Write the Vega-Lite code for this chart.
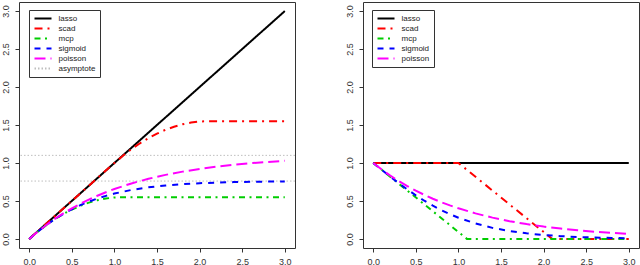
{
  "$schema": "https://vega.github.io/schema/vega-lite/v6.json",
  "padding": {"left": 0, "top": 1, "right": 0, "bottom": 0},
  "background": "white",
  "spacing": 48,
  "config": {
    "font": "Liberation Sans",
    "view": {"stroke": "#333", "strokeWidth": 1},
    "axis": {
      "domain": false, "grid": false, "ticks": true, "tickSize": 4, "tickColor": "#333",
      "labelFont": "Liberation Sans", "labelFontSize": 9, "labelColor": "#333",
      "labelPadding": 5, "labelFlush": false, "labelOverlap": false, "title": null
    },
    "legend": {
      "orient": "none", "title": null, "symbolType": "stroke", "symbolSize": 289,
      "symbolStrokeWidth": 2, "labelFont": "Liberation Sans", "labelFontSize": 8,
      "labelColor": "#222", "labelOffset": 6, "padding": 4.5, "rowPadding": 2, "clipHeight": 8,
      "strokeColor": "#333", "fillColor": "white"
    }
  },
  "datasets": {
    "pen": [
      {"x": 0, "y": 0, "s": "lasso"}, {"x": 3, "y": 3, "s": "lasso"},
      {"x": 0, "y": 0, "s": "scad"}, {"x": 1, "y": 1, "s": "scad"}, {"x": 1.1, "y": 1.0955, "s": "scad"}, {"x": 1.2, "y": 1.1818, "s": "scad"}, {"x": 1.3, "y": 1.2591, "s": "scad"}, {"x": 1.4, "y": 1.3273, "s": "scad"}, {"x": 1.5, "y": 1.3864, "s": "scad"}, {"x": 1.6, "y": 1.4364, "s": "scad"}, {"x": 1.7, "y": 1.4773, "s": "scad"}, {"x": 1.8, "y": 1.5091, "s": "scad"}, {"x": 1.9, "y": 1.5318, "s": "scad"}, {"x": 2.0, "y": 1.5455, "s": "scad"}, {"x": 2.1, "y": 1.55, "s": "scad"}, {"x": 3, "y": 1.55, "s": "scad"},
      {"x": 0, "y": 0, "s": "mcp"}, {"x": 0.1, "y": 0.0955, "s": "mcp"}, {"x": 0.2, "y": 0.1818, "s": "mcp"}, {"x": 0.3, "y": 0.2591, "s": "mcp"}, {"x": 0.4, "y": 0.3273, "s": "mcp"}, {"x": 0.5, "y": 0.3864, "s": "mcp"}, {"x": 0.6, "y": 0.4364, "s": "mcp"}, {"x": 0.7, "y": 0.4773, "s": "mcp"}, {"x": 0.8, "y": 0.5091, "s": "mcp"}, {"x": 0.9, "y": 0.5318, "s": "mcp"}, {"x": 1.0, "y": 0.5455, "s": "mcp"}, {"x": 1.1, "y": 0.55, "s": "mcp"}, {"x": 3, "y": 0.55, "s": "mcp"},
      {"x": 0, "y": 0, "s": "sigmoid"}, {"x": 0.1, "y": 0.0955, "s": "sigmoid"}, {"x": 0.2, "y": 0.1819, "s": "sigmoid"}, {"x": 0.3, "y": 0.2596, "s": "sigmoid"}, {"x": 0.4, "y": 0.3288, "s": "sigmoid"}, {"x": 0.5, "y": 0.39, "s": "sigmoid"}, {"x": 0.6, "y": 0.4438, "s": "sigmoid"}, {"x": 0.7, "y": 0.4907, "s": "sigmoid"}, {"x": 0.8, "y": 0.5314, "s": "sigmoid"}, {"x": 0.9, "y": 0.5665, "s": "sigmoid"}, {"x": 1.0, "y": 0.5967, "s": "sigmoid"}, {"x": 1.2, "y": 0.6445, "s": "sigmoid"}, {"x": 1.4, "y": 0.6789, "s": "sigmoid"}, {"x": 1.6, "y": 0.7035, "s": "sigmoid"}, {"x": 1.8, "y": 0.7209, "s": "sigmoid"}, {"x": 2.0, "y": 0.7332, "s": "sigmoid"}, {"x": 2.2, "y": 0.7418, "s": "sigmoid"}, {"x": 2.4, "y": 0.7478, "s": "sigmoid"}, {"x": 2.6, "y": 0.7521, "s": "sigmoid"}, {"x": 2.8, "y": 0.755, "s": "sigmoid"}, {"x": 3.0, "y": 0.7574, "s": "sigmoid"},
      {"x": 0, "y": 0, "s": "poisson"}, {"x": 0.1, "y": 0.0956, "s": "poisson"}, {"x": 0.2, "y": 0.1829, "s": "poisson"}, {"x": 0.3, "y": 0.2626, "s": "poisson"}, {"x": 0.4, "y": 0.3354, "s": "poisson"}, {"x": 0.5, "y": 0.4018, "s": "poisson"}, {"x": 0.6, "y": 0.4625, "s": "poisson"}, {"x": 0.7, "y": 0.5179, "s": "poisson"}, {"x": 0.8, "y": 0.5685, "s": "poisson"}, {"x": 0.9, "y": 0.6147, "s": "poisson"}, {"x": 1.0, "y": 0.6569, "s": "poisson"}, {"x": 1.2, "y": 0.7305, "s": "poisson"}, {"x": 1.4, "y": 0.7919, "s": "poisson"}, {"x": 1.6, "y": 0.8432, "s": "poisson"}, {"x": 1.8, "y": 0.8858, "s": "poisson"}, {"x": 2.0, "y": 0.9214, "s": "poisson"}, {"x": 2.2, "y": 0.9511, "s": "poisson"}, {"x": 2.4, "y": 0.9759, "s": "poisson"}, {"x": 2.6, "y": 0.9965, "s": "poisson"}, {"x": 2.8, "y": 1.0137, "s": "poisson"}, {"x": 3.0, "y": 1.0281, "s": "poisson"}
    ],
    "asym": [{"y": 1.1}, {"y": 0.7617}],
    "der": [
      {"x": 0, "y": 1, "s": "lasso"}, {"x": 3, "y": 1, "s": "lasso"},
      {"x": 0, "y": 1, "s": "scad"}, {"x": 1, "y": 1, "s": "scad"}, {"x": 2.1, "y": 0, "s": "scad"}, {"x": 3, "y": 0, "s": "scad"},
      {"x": 0, "y": 1, "s": "mcp"}, {"x": 1.1, "y": 0, "s": "mcp"}, {"x": 3, "y": 0, "s": "mcp"},
      {"x": 0, "y": 1, "s": "sigmoid"}, {"x": 0.1, "y": 0.9092, "s": "sigmoid"}, {"x": 0.2, "y": 0.82, "s": "sigmoid"}, {"x": 0.3, "y": 0.7336, "s": "sigmoid"}, {"x": 0.4, "y": 0.6513, "s": "sigmoid"}, {"x": 0.5, "y": 0.574, "s": "sigmoid"}, {"x": 0.6, "y": 0.5025, "s": "sigmoid"}, {"x": 0.7, "y": 0.4372, "s": "sigmoid"}, {"x": 0.8, "y": 0.3782, "s": "sigmoid"}, {"x": 0.9, "y": 0.3255, "s": "sigmoid"}, {"x": 1.0, "y": 0.2789, "s": "sigmoid"}, {"x": 1.2, "y": 0.2024, "s": "sigmoid"}, {"x": 1.4, "y": 0.1451, "s": "sigmoid"}, {"x": 1.6, "y": 0.1031, "s": "sigmoid"}, {"x": 1.8, "y": 0.0728, "s": "sigmoid"}, {"x": 2.0, "y": 0.0512, "s": "sigmoid"}, {"x": 2.2, "y": 0.0358, "s": "sigmoid"}, {"x": 2.4, "y": 0.025, "s": "sigmoid"}, {"x": 2.6, "y": 0.0175, "s": "sigmoid"}, {"x": 2.8, "y": 0.0122, "s": "sigmoid"}, {"x": 3.0, "y": 0.0085, "s": "sigmoid"},
      {"x": 0, "y": 1, "s": "poisson"}, {"x": 0.1, "y": 0.9131, "s": "poisson"}, {"x": 0.2, "y": 0.8337, "s": "poisson"}, {"x": 0.3, "y": 0.7613, "s": "poisson"}, {"x": 0.4, "y": 0.6951, "s": "poisson"}, {"x": 0.5, "y": 0.6347, "s": "poisson"}, {"x": 0.6, "y": 0.5796, "s": "poisson"}, {"x": 0.7, "y": 0.5292, "s": "poisson"}, {"x": 0.8, "y": 0.4832, "s": "poisson"}, {"x": 0.9, "y": 0.4412, "s": "poisson"}, {"x": 1.0, "y": 0.4029, "s": "poisson"}, {"x": 1.2, "y": 0.3359, "s": "poisson"}, {"x": 1.4, "y": 0.2801, "s": "poisson"}, {"x": 1.6, "y": 0.2335, "s": "poisson"}, {"x": 1.8, "y": 0.1947, "s": "poisson"}, {"x": 2.0, "y": 0.1623, "s": "poisson"}, {"x": 2.2, "y": 0.1353, "s": "poisson"}, {"x": 2.4, "y": 0.1128, "s": "poisson"}, {"x": 2.6, "y": 0.0941, "s": "poisson"}, {"x": 2.8, "y": 0.0785, "s": "poisson"}, {"x": 3.0, "y": 0.0654, "s": "poisson"}
    ]
  },
  "resolve": {"scale": {"color": "independent", "strokeDash": "independent"}, "legend": {"color": "independent", "strokeDash": "independent"}},
  "hconcat": [
    {
      "width": 276, "height": 246,
      "layer": [
        {
          "data": {"name": "asym"},
          "mark": {"type": "rule", "strokeWidth": 1},
          "encoding": {
            "y": {"field": "y", "type": "quantitative", "scale": {"domain": [-0.12, 3.12], "nice": false, "zero": false}, "axis": {"values": [0, 0.5, 1, 1.5, 2, 2.5, 3], "format": ".1f", "labelAngle": 270}},
            "color": {"datum": "asymptote"},
            "strokeDash": {"datum": "asymptote"}
          }
        },
        {
          "data": {"name": "pen"},
          "mark": {"type": "line", "strokeWidth": 2},
          "encoding": {
            "x": {"field": "x", "type": "quantitative", "scale": {"domain": [-0.12, 3.12], "nice": false, "zero": false}, "axis": {"values": [0, 0.5, 1, 1.5, 2, 2.5, 3], "format": ".1f"}},
            "y": {"field": "y", "type": "quantitative"},
            "color": {"field": "s", "type": "nominal",
              "scale": {"domain": ["lasso", "scad", "mcp", "sigmoid", "poisson", "asymptote"], "range": ["#000000", "#FF0000", "#00CD00", "#0000FF", "#FF00FF", "#BEBEBE"]},
              "legend": {"legendX": 10, "legendY": 8}},
            "strokeDash": {"field": "s", "type": "nominal",
              "scale": {"domain": ["lasso", "scad", "mcp", "sigmoid", "poisson", "asymptote"], "range": [[1, 0], [8, 5, 2, 5], [6, 4.5, 2, 4.5], [6, 6], [11, 5], [1.5, 2]]},
              "legend": {"legendX": 10, "legendY": 8}}
          }
        }
      ]
    },
    {
      "width": 276, "height": 246,
      "data": {"name": "der"},
      "mark": {"type": "line", "strokeWidth": 2},
      "encoding": {
        "x": {"field": "x", "type": "quantitative", "scale": {"domain": [-0.12, 3.12], "nice": false, "zero": false}, "axis": {"values": [0, 0.5, 1, 1.5, 2, 2.5, 3], "format": ".1f"}},
        "y": {"field": "y", "type": "quantitative", "scale": {"domain": [-0.12, 3.12], "nice": false, "zero": false}, "axis": {"values": [0, 0.5, 1, 1.5, 2, 2.5, 3], "format": ".1f", "labelAngle": 270}},
        "color": {"field": "s", "type": "nominal",
          "scale": {"domain": ["lasso", "scad", "mcp", "sigmoid", "poisson"], "range": ["#000000", "#FF0000", "#00CD00", "#0000FF", "#FF00FF"]},
          "legend": {"legendX": 9, "legendY": 8}},
        "strokeDash": {"field": "s", "type": "nominal",
          "scale": {"domain": ["lasso", "scad", "mcp", "sigmoid", "poisson"], "range": [[1, 0], [8, 5, 2, 5], [6, 4.5, 2, 4.5], [6, 6], [11, 5]]},
          "legend": {"legendX": 9, "legendY": 8}}
      }
    }
  ]
}
